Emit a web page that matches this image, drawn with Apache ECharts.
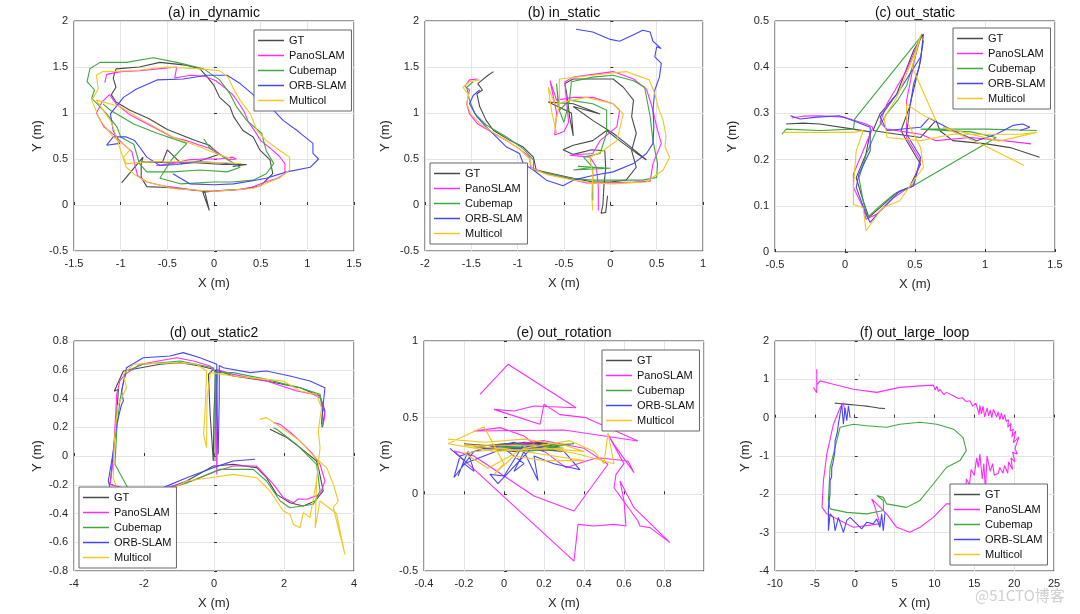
<!DOCTYPE html>
<html><head><meta charset="utf-8">
<script src="https://cdn.jsdelivr.net/npm/echarts@6/dist/echarts.min.js"></script>
<style>html,body{margin:0;padding:0;background:#fff}#c{width:1080px;height:614px}</style>
</head><body><div id="c"></div>
<script>
const NAMES = ['GT','PanoSLAM','Cubemap','ORB-SLAM','Multicol'];
const TITLES = ['(a) in_dynamic','(b) in_static','(c) out_static','(d) out_static2','(e) out_rotation','(f) out_large_loop'];
const X_MIN = [-1.5,-2,-0.5,-4,-0.4,-10];
const X_MAX = [1.5,1,1.5,4,1,25];
const X_STEP = [0.5,0.5,0.5,2,0.2,5];
const Y_MIN = [-0.5,-0.5,0,-0.8,-0.5,-4];
const Y_MAX = [2,2,0.5,0.8,1,2];
const Y_STEP = [0.5,0.5,0.1,0.2,0.5,1];

// (a) in_dynamic
const a_gt = [[-0.99,0.24],[-0.76,0.52],[-0.78,0.45],[-0.78,0.30],[-0.72,0.2],[-0.5,0.19],[-0.3,0.17],[-0.1,0.15],[-0.05,-0.06],[-0.12,0.14],[0.1,0.16],[0.3,0.17],[0.5,0.21],[0.63,0.34],[0.6,0.49],[0.49,0.6],[0.42,0.74],[0.31,0.81],[0.21,0.96],[0.17,1.07],[0.06,1.17],[0.0,1.3],[-0.08,1.4],[-0.15,1.48],[-0.3,1.52],[-0.58,1.55],[-0.8,1.5],[-1.05,1.48],[-1.08,1.38],[-1.05,1.28],[-1.1,1.2],[-1.05,1.12],[-0.9,1.03],[-0.7,0.94],[-0.5,0.82],[-0.35,0.76],[-0.2,0.7],[-0.05,0.65],[0.05,0.55],[-0.15,0.48],[-0.35,0.45],[-0.5,0.6],[-0.55,0.47],[-0.77,0.47],[-0.5,0.46],[-0.2,0.46],[0.1,0.44],[0.35,0.44],[0.2,0.42]];
const a_pano = [[-0.62,0.43],[-0.45,0.45],[-0.28,0.49],[-0.1,0.5],[0.05,0.5],[0.2,0.52],[0.24,0.5],[0.15,0.49],[0.0,0.6],[-0.15,0.65],[-0.3,0.7],[-0.45,0.74],[-0.6,0.82],[-0.75,0.9],[-0.9,0.98],[-1.05,1.1],[-1.12,1.2],[-1.2,1.12],[-1.26,1.0],[-1.18,0.85],[-1.08,0.77],[-0.98,0.67],[-0.88,0.58],[-0.85,0.45],[-0.82,0.32],[-0.72,0.25],[-0.55,0.21],[-0.4,0.19],[-0.2,0.16],[0.0,0.15],[0.2,0.16],[0.4,0.19],[0.55,0.25],[0.68,0.29],[0.76,0.34],[0.76,0.45],[0.7,0.53],[0.6,0.62],[0.5,0.7],[0.44,0.8],[0.37,0.9],[0.32,1.02],[0.25,1.13],[0.2,1.2],[0.12,1.27],[0.02,1.35],[-0.1,1.4],[-0.25,1.41],[-0.42,1.38],[-0.4,1.5],[-0.6,1.48],[-0.8,1.46],[-1.0,1.45],[-1.15,1.42],[-1.17,1.33]];
const a_cube = [[-0.11,0.72],[-0.04,0.61],[0.28,0.41],[0.14,0.36],[-0.15,0.38],[-0.44,0.36],[-0.72,0.36],[-0.8,0.45],[-0.83,0.56],[-0.86,0.66],[-1.0,0.74],[-1.04,0.85],[-1.15,0.99],[-1.25,1.1],[-1.31,1.16],[-1.28,1.25],[-1.36,1.34],[-1.33,1.48],[-1.22,1.55],[-0.94,1.55],[-0.65,1.6],[-0.4,1.55],[-0.11,1.48],[0.06,1.36],[0.17,1.21],[0.24,1.07],[0.35,0.92],[0.51,0.78],[0.56,0.59],[0.64,0.45],[0.56,0.34],[0.42,0.27],[0.2,0.25],[0.0,0.25],[-0.36,0.23],[-0.58,0.29],[-0.45,0.5],[-0.29,0.67],[-0.61,0.78],[-0.86,0.88],[-1.11,1.03],[-1.19,1.1]];
const a_orb = [[-0.44,0.34],[-0.26,0.23],[0.0,0.22],[0.21,0.23],[0.4,0.26],[0.56,0.29],[0.78,0.36],[1.03,0.41],[1.12,0.5],[1.06,0.56],[1.06,0.67],[0.95,0.76],[0.89,0.81],[0.74,0.92],[0.62,1.05],[0.56,1.1],[0.45,1.15],[0.42,1.2],[0.35,1.26],[0.28,1.32],[0.14,1.41],[-0.08,1.41],[-0.33,1.37],[-0.61,1.36],[-0.83,1.26],[-0.97,1.17],[-1.11,0.99],[-1.08,0.81],[-1.01,0.67],[-1.15,0.65],[-1.08,0.74],[-0.94,0.74],[-0.85,0.7],[-0.79,0.62],[-0.72,0.52],[-0.58,0.43],[-0.4,0.44],[-0.15,0.47],[0.05,0.46],[0.25,0.44]];
const a_multi = [[0.3,0.45],[0.14,0.46],[-0.29,0.47],[-0.72,0.47],[-0.94,0.45],[-0.97,0.52],[-0.9,0.6],[-1.0,0.68],[-1.08,0.74],[-1.22,0.92],[-1.31,1.14],[-1.24,1.26],[-1.26,1.41],[-1.19,1.45],[-0.86,1.46],[-0.51,1.5],[-0.15,1.48],[0.06,1.46],[0.15,1.39],[0.21,1.26],[0.28,1.14],[0.39,0.99],[0.46,0.81],[0.56,0.7],[0.71,0.59],[0.81,0.52],[0.81,0.38],[0.71,0.3],[0.42,0.18],[0.0,0.15],[-0.44,0.18],[-0.72,0.25],[-0.85,0.33],[-0.94,0.41],[-1.1,0.9],[-1.26,1.14],[-1.01,1.07],[-0.76,0.92],[-0.44,0.74],[-0.15,0.63],[0.05,0.55],[0.2,0.5]];

// (b) in_static
const b_gt = [[-1.26,1.45],[-1.32,1.41],[-1.43,1.32],[-1.38,1.25],[-1.44,1.21],[-1.41,1.07],[-1.34,0.92],[-1.26,0.81],[-1.08,0.7],[-0.94,0.63],[-0.83,0.52],[-0.8,0.38],[-0.62,0.34],[-0.4,0.29],[-0.19,0.25],[0.0,0.25],[0.17,0.27],[0.28,0.41],[0.23,0.59],[0.28,0.78],[0.23,0.96],[0.25,1.14],[0.14,1.28],[0.03,1.37],[-0.19,1.37],[-0.4,1.37],[-0.49,1.32],[-0.46,1.14],[-0.44,0.96],[-0.4,0.75],[-0.42,1.0],[-0.67,1.12],[-0.4,1.1],[-0.11,0.99],[-0.4,1.07],[-0.19,0.92],[0.03,0.78],[0.17,0.67],[0.39,0.49],[0.3,0.55],[0.1,0.7],[-0.04,0.81],[-0.19,0.7],[-0.4,0.65],[-0.51,0.6],[-0.4,0.55],[-0.2,0.6],[-0.06,0.59],[-0.05,0.4],[-0.07,0.2],[-0.08,0.0],[-0.1,-0.09],[-0.05,-0.08],[-0.03,0.1]];
const b_pano = [[-1.43,1.37],[-1.52,1.36],[-1.57,1.29],[-1.52,1.25],[-1.55,1.1],[-1.52,0.99],[-1.43,0.88],[-1.26,0.78],[-1.12,0.7],[-0.98,0.61],[-0.87,0.52],[-0.86,0.41],[-0.69,0.34],[-0.47,0.29],[-0.26,0.24],[0.03,0.24],[0.25,0.25],[0.43,0.26],[0.46,0.45],[0.55,0.67],[0.5,0.85],[0.46,1.03],[0.39,1.26],[0.25,1.37],[0.03,1.45],[-0.19,1.42],[-0.4,1.39],[-0.49,1.34],[-0.47,1.1],[-0.45,0.9],[-0.5,0.8],[-0.6,0.76],[-0.58,1.0],[-0.62,1.2],[-0.65,1.35],[-0.58,1.14],[-0.4,1.17],[-0.19,1.17],[0.03,1.1],[0.1,1.03],[0.07,0.85],[-0.11,0.7],[-0.19,0.56],[-0.44,0.54],[-0.22,0.52],[-0.15,0.41],[-0.13,0.2],[-0.13,-0.06]];
const b_cube = [[-1.48,1.34],[-1.55,1.28],[-1.52,1.14],[-1.46,0.99],[-1.34,0.87],[-1.12,0.74],[-0.94,0.61],[-0.83,0.49],[-0.83,0.38],[-0.65,0.34],[-0.44,0.29],[-0.19,0.27],[0.1,0.27],[0.35,0.27],[0.5,0.3],[0.51,0.45],[0.46,0.7],[0.43,0.96],[0.37,1.28],[0.25,1.35],[0.03,1.41],[-0.19,1.39],[-0.42,1.34],[-0.44,1.14],[-0.5,0.9],[-0.56,1.05],[-0.58,1.32],[-0.55,1.03],[-0.44,1.14],[-0.19,1.1],[-0.04,1.03],[-0.04,0.78],[-0.11,0.56],[-0.29,0.52],[-0.19,0.41],[-0.4,0.38],[0.0,0.4],[-0.35,0.42],[-0.19,0.41],[-0.19,0.2],[-0.19,0.05]];
const b_orb = [[-1.41,1.25],[-1.48,1.19],[-1.52,1.1],[-1.44,0.96],[-1.34,0.85],[-1.19,0.7],[-1.12,0.63],[-0.98,0.56],[-0.94,0.45],[-0.83,0.38],[-0.69,0.27],[-0.51,0.21],[-0.4,0.27],[-0.19,0.32],[0.03,0.36],[0.25,0.45],[0.39,0.56],[0.46,0.67],[0.47,0.85],[0.46,1.03],[0.48,1.25],[0.53,1.39],[0.55,1.54],[0.48,1.61],[0.5,1.72],[0.55,1.7],[0.46,1.78],[0.43,1.88],[0.35,1.9],[0.25,1.85],[0.1,1.78],[0.0,1.8],[-0.19,1.88],[-0.37,1.91]];
const b_multi = [[-1.41,1.36],[-1.52,1.34],[-1.59,1.28],[-1.53,1.2],[-1.55,1.1],[-1.5,0.98],[-1.4,0.88],[-1.24,0.77],[-1.1,0.69],[-0.97,0.6],[-0.87,0.5],[-0.85,0.4],[-0.68,0.33],[-0.45,0.28],[-0.2,0.24],[0.03,0.23],[0.2,0.24],[0.39,0.25],[0.57,0.38],[0.64,0.52],[0.59,0.63],[0.6,0.75],[0.57,0.92],[0.52,1.05],[0.48,1.21],[0.42,1.36],[0.17,1.45],[-0.19,1.41],[-0.55,1.37],[-0.55,1.1],[-0.6,0.85],[-0.58,0.78],[-0.63,1.0],[-0.67,1.28],[-0.6,1.1],[-0.26,1.17],[0.03,1.1],[0.14,0.99],[0.07,0.7],[-0.08,0.59],[-0.22,0.52],[-0.19,0.34],[-0.2,0.1],[-0.19,-0.06]];

// (c) out_static
const c_gt = [[-0.42,0.277],[-0.3,0.279],[-0.18,0.277],[0.06,0.266],[0.18,0.26],[0.15,0.212],[0.08,0.161],[0.13,0.111],[0.17,0.075],[0.25,0.096],[0.37,0.129],[0.46,0.14],[0.54,0.19],[0.44,0.241],[0.4,0.263],[0.46,0.313],[0.54,0.415],[0.56,0.472],[0.49,0.436],[0.37,0.342],[0.25,0.299],[0.2,0.263],[0.3,0.258],[0.54,0.248],[0.65,0.285],[0.68,0.262],[0.77,0.241],[1.01,0.234],[1.18,0.226],[1.39,0.205]];
const c_pano = [[-0.38,0.29],[-0.3,0.294],[-0.18,0.295],[-0.01,0.292],[0.15,0.277],[0.2,0.27],[0.11,0.205],[0.06,0.169],[0.06,0.14],[0.13,0.096],[0.15,0.071],[0.23,0.082],[0.35,0.118],[0.49,0.147],[0.54,0.198],[0.44,0.247],[0.44,0.328],[0.51,0.436],[0.55,0.472],[0.44,0.393],[0.3,0.321],[0.25,0.28],[0.3,0.266],[0.54,0.255],[0.65,0.241],[0.89,0.248],[1.13,0.241],[1.33,0.234]];
const c_cube = [[-0.45,0.255],[-0.42,0.266],[-0.18,0.263],[0.06,0.266],[0.07,0.288],[0.54,0.465],[0.5,0.42],[0.44,0.36],[0.38,0.33],[0.3,0.3],[0.22,0.26],[0.15,0.21],[0.1,0.16],[0.13,0.11],[0.16,0.075],[0.25,0.1],[0.35,0.125],[0.47,0.14],[1.08,0.248],[0.9,0.26],[0.54,0.266],[1.01,0.266],[1.37,0.263]];
const c_orb = [[-0.39,0.295],[-0.32,0.288],[-0.2,0.292],[-0.04,0.295],[0.06,0.284],[0.18,0.27],[0.18,0.219],[0.1,0.169],[0.08,0.14],[0.15,0.082],[0.18,0.064],[0.25,0.089],[0.39,0.132],[0.49,0.143],[0.54,0.205],[0.44,0.255],[0.46,0.306],[0.49,0.364],[0.53,0.4],[0.56,0.458],[0.54,0.422],[0.39,0.35],[0.25,0.292],[0.3,0.263],[0.54,0.27],[0.6,0.29],[0.77,0.263],[0.94,0.241],[1.08,0.255],[1.2,0.274],[1.27,0.277],[1.32,0.27],[1.25,0.263]];
const c_multi = [[-0.44,0.259],[-0.18,0.259],[0.06,0.259],[0.13,0.263],[0.08,0.219],[0.06,0.14],[0.06,0.103],[0.13,0.096],[0.15,0.046],[0.2,0.067],[0.27,0.096],[0.39,0.111],[0.49,0.154],[0.56,0.183],[0.54,0.226],[0.44,0.284],[0.44,0.32],[0.58,0.292],[0.65,0.284],[0.48,0.4],[0.54,0.469],[0.5,0.43],[0.37,0.335],[0.28,0.29],[0.3,0.248],[0.54,0.241],[0.77,0.255],[1.0,0.255],[1.25,0.255],[1.37,0.259],[1.1,0.24],[0.7,0.27],[1.0,0.23],[1.28,0.187]];

// (d) out_static2
const d_gt = [[1.6,0.186],[2.08,0.128],[2.46,0.058],[2.93,-0.035],[3.0,-0.1],[3.12,-0.243],[2.89,-0.313],[2.55,-0.348],[2.17,-0.325],[1.79,-0.267],[1.5,-0.151],[1.22,-0.081],[0.55,-0.058],[-0.02,-0.07],[-0.78,-0.174],[-1.54,-0.243],[-2.2,-0.25],[-2.97,-0.197],[-2.88,0.012],[-2.83,0.151],[-2.78,0.29],[-2.73,0.464],[-2.85,0.45],[-2.59,0.591],[-1.54,0.638],[-0.97,0.649],[-0.4,0.626],[-0.02,0.603],[-0.16,0.568],[-0.11,0.29],[-0.02,-0.035],[0.0,0.3],[0.05,0.6],[0.55,0.557],[1.5,0.522],[2.46,0.475],[3.03,0.417],[3.17,0.313],[3.1,0.2]];
const d_pano = [[1.7,0.232],[1.89,0.22],[2.2,0.16],[2.46,0.104],[2.8,0.02],[3.03,-0.058],[3.17,-0.174],[3.03,-0.267],[2.65,-0.301],[2.4,-0.3],[2.27,-0.325],[1.98,-0.29],[1.7,-0.197],[1.22,-0.07],[0.55,-0.07],[0.08,-0.104],[-0.6,-0.17],[-1.5,-0.23],[-2.4,-0.24],[-2.97,-0.197],[-2.88,-0.035],[-2.83,0.197],[-2.78,0.429],[-2.69,0.522],[-2.54,0.568],[-2.11,0.638],[-1.07,0.684],[-0.59,0.661],[-0.11,0.626],[0.08,0.568],[0.1,0.2],[0.08,-0.128],[0.06,0.3],[0.1,0.6],[0.55,0.568],[1.5,0.522],[2.37,0.452],[2.84,0.429],[3.05,0.4],[3.17,0.29],[3.12,0.22]];
const d_cube = [[1.7,0.197],[1.79,0.186],[2.36,0.081],[2.93,-0.058],[3.03,-0.243],[2.84,-0.336],[2.17,-0.36],[1.89,-0.313],[1.5,-0.174],[1.12,-0.093],[0.17,-0.093],[-0.8,-0.19],[-1.6,-0.25],[-2.4,-0.25],[-2.83,-0.058],[-2.78,0.174],[-2.69,0.383],[-2.6,0.5],[-2.5,0.591],[-2.02,0.638],[-0.97,0.661],[-0.02,0.614],[0.03,0.58],[0.03,-0.035],[0.06,0.58],[0.55,0.58],[1.5,0.533],[2.46,0.475],[3.03,0.429],[3.1,0.3],[3.08,0.2]];
const d_orb = [[1.17,-0.023],[0.55,-0.035],[-0.02,-0.081],[-0.78,-0.151],[-1.45,-0.22],[-2.2,-0.24],[-2.97,-0.22],[-3.02,-0.174],[-2.9,0.0],[-2.78,0.22],[-2.64,0.36],[-2.59,0.383],[-2.64,0.452],[-2.5,0.614],[-2.02,0.684],[-1.26,0.696],[-0.88,0.719],[-0.4,0.684],[0.08,0.638],[0.12,0.649],[0.08,0.29],[0.12,0.012],[0.15,0.4],[0.15,0.63],[0.27,0.614],[1.03,0.58],[1.5,0.591],[2.17,0.557],[2.74,0.522],[3.17,0.475],[3.12,0.36],[3.07,0.22]];
const d_multi = [[1.31,0.255],[1.5,0.267],[1.79,0.22],[2.46,0.104],[2.89,-0.012],[3.22,-0.081],[3.41,-0.197],[3.55,-0.313],[3.41,-0.36],[3.74,-0.684],[3.5,-0.4],[3.03,-0.313],[2.89,-0.499],[2.93,-0.174],[2.74,-0.429],[2.55,-0.394],[2.46,-0.499],[2.27,-0.476],[2.17,-0.406],[1.98,-0.383],[1.6,-0.243],[1.22,-0.151],[0.55,-0.128],[-0.11,-0.151],[-0.78,-0.174],[-1.5,-0.27],[-2.2,-0.32],[-2.78,-0.22],[-2.88,-0.151],[-2.85,0.1],[-2.75,0.35],[-2.5,0.475],[-2.59,0.568],[-2.3,0.638],[-1.07,0.649],[-0.5,0.638],[-0.21,0.591],[-0.26,0.29],[-0.3,0.151],[-0.21,0.058],[-0.2,0.4],[-0.1,0.58],[0.55,0.557],[1.5,0.533],[1.98,0.522],[2.46,0.452],[2.93,0.429],[3.07,0.336],[2.98,0.174],[3.03,0.058],[2.93,-0.174]];

// (e) out_rotation
const e_gt = [[-0.2,0.33],[0.0,0.31],[0.2,0.3],[0.3,0.32],[0.1,0.34],[-0.1,0.3],[0.05,0.28],[0.25,0.31],[0.15,0.33],[-0.05,0.32],[0.1,0.3],[0.3,0.28],[0.2,0.34],[0.0,0.33],[-0.15,0.31],[0.1,0.29],[0.28,0.3]];
const e_pano = [[-0.12,0.652],[0.02,0.848],[0.36,0.565],[0.15,0.576],[0.05,0.543],[-0.05,0.554],[0.18,0.457],[0.2,0.587],[0.28,0.52],[0.41,0.5],[0.67,0.348],[0.3,0.42],[-0.15,0.413],[-0.02,0.435],[0.1,0.38],[0.31,0.174],[0.41,0.217],[0.47,0.239],[0.62,0.217],[0.65,0.141],[0.55,0.326],[0.52,0.391],[0.6,0.2],[0.56,0.13],[0.55,0.043],[0.67,-0.174],[0.68,-0.207],[0.73,-0.217],[0.83,-0.315],[0.65,-0.087],[0.58,0.087],[0.6,-0.043],[0.61,-0.207],[0.55,-0.196],[0.45,-0.207],[0.37,-0.196],[0.35,-0.435],[-0.25,0.283],[-0.15,0.25],[0.15,-0.011],[0.35,-0.109],[0.52,0.196],[0.4,0.3],[0.2,0.35],[-0.1,0.3]];
const e_cube = [[0.0,0.31],[0.2,0.32],[0.35,0.33],[0.15,0.3],[-0.05,0.32],[0.1,0.28],[0.3,0.3],[0.05,0.33],[0.25,0.29],[-0.05,0.3],[0.2,0.31]];
const e_orb = [[-0.27,0.3],[-0.2,0.22],[-0.23,0.12],[-0.18,0.28],[-0.15,0.15],[-0.2,0.2],[-0.1,0.25],[0.0,0.3],[0.1,0.2],[0.05,0.15],[0.1,0.28],[0.17,0.09],[0.15,0.25],[0.25,0.2],[0.38,0.16],[0.3,0.28],[0.15,0.32],[-0.03,0.07],[-0.07,0.13],[0.0,0.12],[0.1,0.33],[0.2,0.3],[-0.1,0.3],[-0.22,0.25],[-0.25,0.11],[-0.15,0.28],[0.05,0.34],[0.2,0.28]];
const e_multi = [[-0.28,0.36],[-0.1,0.34],[0.1,0.36],[0.3,0.32],[0.4,0.28],[0.2,0.3],[-0.05,0.28],[-0.28,0.33],[-0.1,0.44],[0.0,0.2],[-0.05,0.13],[0.05,0.25],[0.2,0.22],[0.4,0.22],[0.2,0.26],[0.0,0.3],[-0.2,0.27],[-0.08,0.17],[0.1,0.3],[0.33,0.35],[0.45,0.28],[0.5,0.2],[0.52,0.4],[0.55,0.2],[0.38,0.26],[0.15,0.32],[-0.2,0.32],[0.05,0.29],[0.3,0.3]];

// (f) out_large_loop
const f_gt = [[-2.5,0.38],[-2.0,0.37],[-1.5,0.36],[-0.5,0.34],[0.0,0.33],[1.0,0.31],[1.5,0.3],[2.2,0.28],[3.0,0.25],[3.8,0.24]];
const f_pano = [[-5.18,0.79],[-4.76,0.65],[-4.76,1.26],[-4.76,0.85],[-4.34,0.96],[-2.67,0.87],[-0.17,0.74],[2.76,0.66],[5.68,0.79],[8.19,0.83],[9.86,0.85],[10.1,0.72],[10.3,0.82],[10.5,0.68],[10.69,0.74],[11.2,0.6],[11.5,0.66],[12.36,0.57],[13.0,0.5],[13.5,0.52],[14.0,0.42],[14.45,0.44],[14.8,0.3],[15.2,0.38],[15.6,0.08],[15.7,0.32],[15.9,0.1],[16.1,0.3],[16.3,0.02],[16.6,0.25],[16.8,0.05],[17.0,0.2],[17.2,0.0],[17.4,0.22],[17.8,0.02],[18.0,0.15],[18.2,-0.05],[18.4,0.12],[18.6,-0.05],[18.8,0.08],[19.0,-0.1],[19.3,-0.05],[19.2,-0.25],[19.6,-0.15],[19.5,-0.35],[19.9,-0.3],[19.7,-0.5],[20.2,-0.35],[19.9,-0.65],[20.6,-0.5],[20.1,-0.8],[20.4,-0.95],[19.8,-0.9],[20.1,-1.15],[19.6,-1.05],[19.8,-1.35],[19.3,-1.15],[19.2,-1.45],[18.8,-1.25],[18.6,-1.45],[18.2,-1.3],[18.0,-1.45],[17.5,-1.5],[17.3,-1.2],[17.0,-1.4],[16.6,-1.0],[16.4,-1.9],[16.2,-1.2],[16.0,-1.6],[15.7,-0.95],[15.5,-1.3],[15.3,-1.05],[15.0,-1.5],[14.6,-1.35],[14.4,-1.75],[14.0,-1.6],[13.9,-2.05],[13.6,-2.16],[12.4,-2.25],[11.5,-2.25],[9.86,-2.6],[8.19,-2.86],[6.9,-2.99],[5.26,-2.86],[4.0,-2.51],[2.76,-2.25],[2.13,-2.12],[2.5,-2.3],[3.17,-2.77],[-0.17,-2.86],[-3.5,-2.51],[-4.1,-2.34],[-3.92,-1.64],[-3.5,-0.95],[-2.67,-0.17],[-1.84,0.26],[-1.42,0.39],[-1.2,0.1]];
const f_cube = [[-1.84,-0.25],[-0.17,-0.17],[1.5,-0.21],[4.0,-0.25],[5.68,-0.17],[8.19,-0.12],[10.3,-0.17],[12.4,-0.3],[13.6,-0.52],[14.0,-0.86],[13.2,-1.12],[11.5,-1.3],[9.86,-1.73],[8.19,-2.16],[6.5,-2.34],[4.0,-2.25],[3.6,-2.08],[2.76,-2.03],[3.6,-2.16],[3.6,-2.42],[1.5,-2.51],[-1.0,-2.47],[-3.09,-2.38],[-3.3,-2.16],[-3.09,-1.3],[-2.25,-0.6],[-1.84,-0.25]];
const f_orb = [[-0.58,0.0],[-0.79,0.31],[-1.0,-0.08],[-1.21,0.26],[-1.42,-0.17],[-1.63,0.35],[-1.84,0.09],[-2.05,-0.17],[-2.2,-0.4],[-2.46,-0.6],[-2.5,-0.9],[-2.67,-0.95],[-2.75,-1.2],[-2.88,-1.3],[-2.9,-1.55],[-3.09,-1.64],[-3.1,-2.0],[-3.3,-2.34],[-3.3,-2.95],[-3.09,-2.51],[-2.67,-2.6],[-2.46,-2.95],[-2.05,-2.6],[-1.42,-2.99],[-1.0,-2.68],[-0.58,-2.6],[0.25,-2.77],[0.88,-2.9],[1.5,-2.73],[2.34,-2.77],[2.76,-2.64],[3.17,-2.86],[3.38,-2.51],[3.59,-2.95],[3.8,-2.47]];
const f_multi = [[0.55,1.08],[0.62,1.13]];

const DATA = [
  [a_gt,a_pano,a_cube,a_orb,a_multi],
  [b_gt,b_pano,b_cube,b_orb,b_multi],
  [c_gt,c_pano,c_cube,c_orb,c_multi],
  [d_gt,d_pano,d_cube,d_orb,d_multi],
  [e_gt,e_pano,e_cube,e_orb,e_multi],
  [f_gt,f_pano,f_cube,f_orb,f_multi]
];

const COLORS = ['#4a4a4a','#ff2bff','#3fa83f','#4646ff','#f0c81e'];
const FONT = '"Liberation Sans", Arial, Helvetica, sans-serif';
const GRIDS = [
  {left:74,top:21,width:280,height:230},
  {left:425,top:21,width:278,height:230},
  {left:775,top:21,width:280,height:231},
  {left:74,top:341,width:280,height:230},
  {left:424,top:341,width:280,height:230},
  {left:775,top:341,width:279,height:230}
];
const YGAP = [30,33,36,30,32,23];
const LEGPOS = [[254,30],[430,163],[953,28],[79,487],[602,350],[950,484]];

const option = {
  animation:false,
  backgroundColor:'#fff',
  title: GRIDS.map((g,i)=>({text:TITLES[i], left:g.left+g.width/2, top:g.top-15, textAlign:'center', padding:0,
    textStyle:{fontSize:14,fontWeight:'normal',color:'#111',fontFamily:FONT}})),
  grid: GRIDS.map(g=>Object.assign({show:true,borderColor:'#333',borderWidth:1,containLabel:false},g)),
  xAxis: GRIDS.map((g,i)=>({gridIndex:i,type:'value',min:X_MIN[i],max:X_MAX[i],interval:X_STEP[i],
    name:'X (m)',nameLocation:'middle',nameGap:26,
    nameTextStyle:{fontSize:13,color:'#262626',fontFamily:FONT},
    axisLine:{show:false},
    axisTick:{show:true,inside:true,length:3,lineStyle:{color:'#333'}},
    axisLabel:{fontSize:11,color:'#262626',margin:7,fontFamily:FONT,showMaxLabel:i!==4,showMinLabel:true},
    splitLine:{show:true,lineStyle:{color:'#e4e4e4',width:1}}})),
  yAxis: GRIDS.map((g,i)=>({gridIndex:i,type:'value',min:Y_MIN[i],max:Y_MAX[i],interval:Y_STEP[i],
    name:'Y (m)',nameLocation:'middle',nameGap:YGAP[i],
    nameTextStyle:{fontSize:13,color:'#262626',fontFamily:FONT},
    axisLine:{show:false},
    axisTick:{show:true,inside:true,length:3,lineStyle:{color:'#333'}},
    axisLabel:{fontSize:11,color:'#262626',margin:6,fontFamily:FONT,showMaxLabel:true,showMinLabel:true},
    splitLine:{show:true,lineStyle:{color:'#e4e4e4',width:1}}})),
  legend: LEGPOS.map(p=>({data:NAMES,orient:'vertical',left:p[0],top:p[1],icon:'rect',
    backgroundColor:'#fff',borderColor:'#666',borderWidth:1,borderRadius:0,padding:[4,5,4,4],
    itemGap:2,itemWidth:26,itemHeight:1.5,selectedMode:false,
    textStyle:{fontSize:11,color:'#111',fontFamily:FONT,lineHeight:13}})),
  series: [],
  graphic:[{type:'text',left:975,top:588,style:{text:'@51CTO博客',fill:'#cfcfcf',font:'15px "Noto Sans CJK SC"'}}]
};
DATA.forEach((panel,i)=>{
  panel.forEach((d,k)=>{
    option.series.push({type:'line',name:NAMES[k],xAxisIndex:i,yAxisIndex:i,data:d,
      symbol:'none',showSymbol:false,smooth:false,clip:true,
      lineStyle:{width:1.1,color:COLORS[k]},itemStyle:{color:COLORS[k]},z:2+k*0.01});
  });
});
const chart = echarts.init(document.getElementById('c'),null,{renderer:'canvas'});
chart.setOption(option);
</script></body></html>
